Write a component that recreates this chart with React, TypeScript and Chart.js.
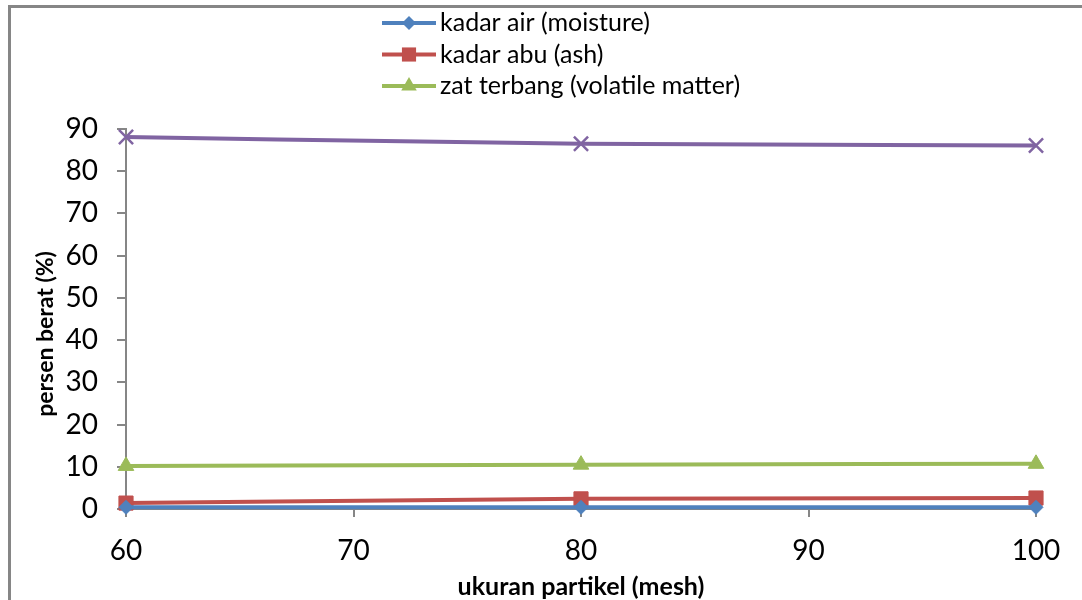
import React, { useEffect, useRef } from 'react';
import { Chart, registerables } from 'chart.js';

Chart.register(...registerables);

const meshSizes = [60, 80, 100];
const moisture = [0.4, 0.4, 0.4];
const ash = [1.4, 2.4, 2.6];
const volatileMatter = [10.2, 10.5, 10.7];
const fixedCarbon = [88.1, 86.5, 86.1];
const seriesNames = [
  'kadar air (moisture)',
  'kadar abu (ash)',
  'zat terbang (volatile matter)',
  'karbon terikat (fixed carbon)',
];
const seriesColors = ['#4F81BD', '#C0504D', '#9BBB59', '#8064A2'];
const seriesMarkers = ['rectRot', 'rect', 'triangle', 'crossRot'];
const markerRadius = [7, 10, 9, 10];
const xTitle = 'ukuran partikel (mesh)';
const yTitle = 'persen berat (%)';

const FONT = 'Lato, "Open Sans", sans-serif';

function drawMarker(ctx: CanvasRenderingContext2D, style: string, x: number, y: number, r: number, color: string) {
  ctx.save();
  ctx.fillStyle = color;
  ctx.strokeStyle = color;
  ctx.beginPath();
  if (style === 'rectRot') {
    ctx.moveTo(x, y - r);
    ctx.lineTo(x + r, y);
    ctx.lineTo(x, y + r);
    ctx.lineTo(x - r, y);
    ctx.closePath();
    ctx.fill();
  } else if (style === 'rect') {
    const s = Math.SQRT1_2 * r;
    ctx.rect(x - s, y - s, 2 * s, 2 * s);
    ctx.fill();
  } else if (style === 'triangle') {
    ctx.moveTo(x, y - r);
    ctx.lineTo(x + r * Math.cos(Math.PI / 6), y + r / 2);
    ctx.lineTo(x - r * Math.cos(Math.PI / 6), y + r / 2);
    ctx.closePath();
    ctx.fill();
  } else {
    const s = Math.SQRT1_2 * r;
    ctx.lineWidth = 2.5;
    ctx.moveTo(x - s, y - s);
    ctx.lineTo(x + s, y + s);
    ctx.moveTo(x + s, y - s);
    ctx.lineTo(x - s, y + s);
    ctx.stroke();
  }
  ctx.restore();
}

const framePlugin = {
  id: 'frame',
  beforeDraw(chart: any) {
    const ctx = chart.ctx as CanvasRenderingContext2D;
    ctx.save();
    ctx.fillStyle = '#ffffff';
    ctx.fillRect(0, 0, chart.width, chart.height);
    ctx.strokeStyle = '#868686';
    ctx.lineWidth = 3;
    ctx.strokeRect(9.5, 6.5, chart.width + 40, chart.height + 40);
    ctx.restore();
  },
};

const legendTitlesPlugin = {
  id: 'legendTitles',
  afterDraw(chart: any) {
    const ctx = chart.ctx as CanvasRenderingContext2D;
    const area = chart.chartArea;
    ctx.save();
    // legend (first three series, as in the reference)
    for (let i = 0; i < 3; i++) {
      const y = 23 + i * 31.5;
      ctx.strokeStyle = seriesColors[i];
      ctx.lineWidth = 4;
      ctx.beginPath();
      ctx.moveTo(382, y);
      ctx.lineTo(436, y);
      ctx.stroke();
      drawMarker(ctx, seriesMarkers[i], 409, y, markerRadius[i], seriesColors[i]);
      ctx.fillStyle = '#000000';
      ctx.font = `25px ${FONT}`;
      ctx.textAlign = 'left';
      ctx.textBaseline = 'middle';
      ctx.fillText(seriesNames[i], 440, y);
    }
    // axis titles
    ctx.fillStyle = '#000000';
    ctx.font = `bold 25px ${FONT}`;
    ctx.textAlign = 'center';
    ctx.textBaseline = 'middle';
    ctx.fillText(xTitle, (area.left + area.right) / 2, 587);
    ctx.font = `bold 23px ${FONT}`;
    ctx.translate(46, 334);
    ctx.rotate(-Math.PI / 2);
    ctx.fillText(yTitle, 0, 0);
    ctx.restore();
  },
};

export default function App() {
  const canvasRef = useRef<HTMLCanvasElement | null>(null);

  useEffect(() => {
    if (!canvasRef.current) return;
    const values = [moisture, ash, volatileMatter, fixedCarbon];
    const chart = new Chart(canvasRef.current, {
      type: 'line',
      data: {
        datasets: values.map((vals, i) => ({
          label: seriesNames[i],
          data: meshSizes.map((m, j) => ({ x: m, y: vals[j] })),
          borderColor: seriesColors[i],
          backgroundColor: seriesColors[i],
          borderWidth: 4,
          pointStyle: seriesMarkers[i] as any,
          pointRadius: markerRadius[i],
          pointBorderWidth: i === 3 ? 2.5 : 1,
          pointBorderColor: seriesColors[i],
          pointBackgroundColor: seriesColors[i],
          tension: 0.35,
          cubicInterpolationMode: 'monotone' as const,
          clip: false as any,
        })),
      },
      options: {
        animation: false,
        responsive: false,
        maintainAspectRatio: false,
        layout: { padding: { top: 129, right: 46, left: 0, bottom: 0 } },
        plugins: {
          legend: { display: false },
          tooltip: { enabled: false },
          title: { display: false },
        },
        scales: {
          x: {
            type: 'linear',
            min: 60,
            max: 100,
            ticks: {
              stepSize: 10,
              color: '#000000',
              font: { family: FONT, size: 28 },
              padding: 17,
              maxRotation: 0,
            },
            grid: {
              drawOnChartArea: false,
              drawTicks: true,
              tickLength: 8,
              color: '#868686',
              lineWidth: 2,
            },
            border: { color: '#868686', width: 2 },
            afterFit: (s: any) => {
              s.height = 91;
            },
          },
          y: {
            min: 0,
            max: 90,
            ticks: {
              stepSize: 10,
              color: '#000000',
              font: { family: FONT, size: 28 },
              padding: 19,
            },
            grid: {
              drawOnChartArea: false,
              drawTicks: true,
              tickLength: 9,
              color: '#868686',
              lineWidth: 2,
            },
            border: { color: '#868686', width: 2 },
            afterFit: (s: any) => {
              s.width = 126;
            },
          },
        },
      },
      plugins: [framePlugin, legendTitlesPlugin],
    });
    return () => chart.destroy();
  }, []);

  return (
    <div style={{ position: 'fixed', left: 0, top: 0, width: 1082, height: 600, background: '#fff' }}>
      <canvas ref={canvasRef} width={1082} height={600} style={{ width: 1082, height: 600, display: 'block' }} />
    </div>
  );
}
